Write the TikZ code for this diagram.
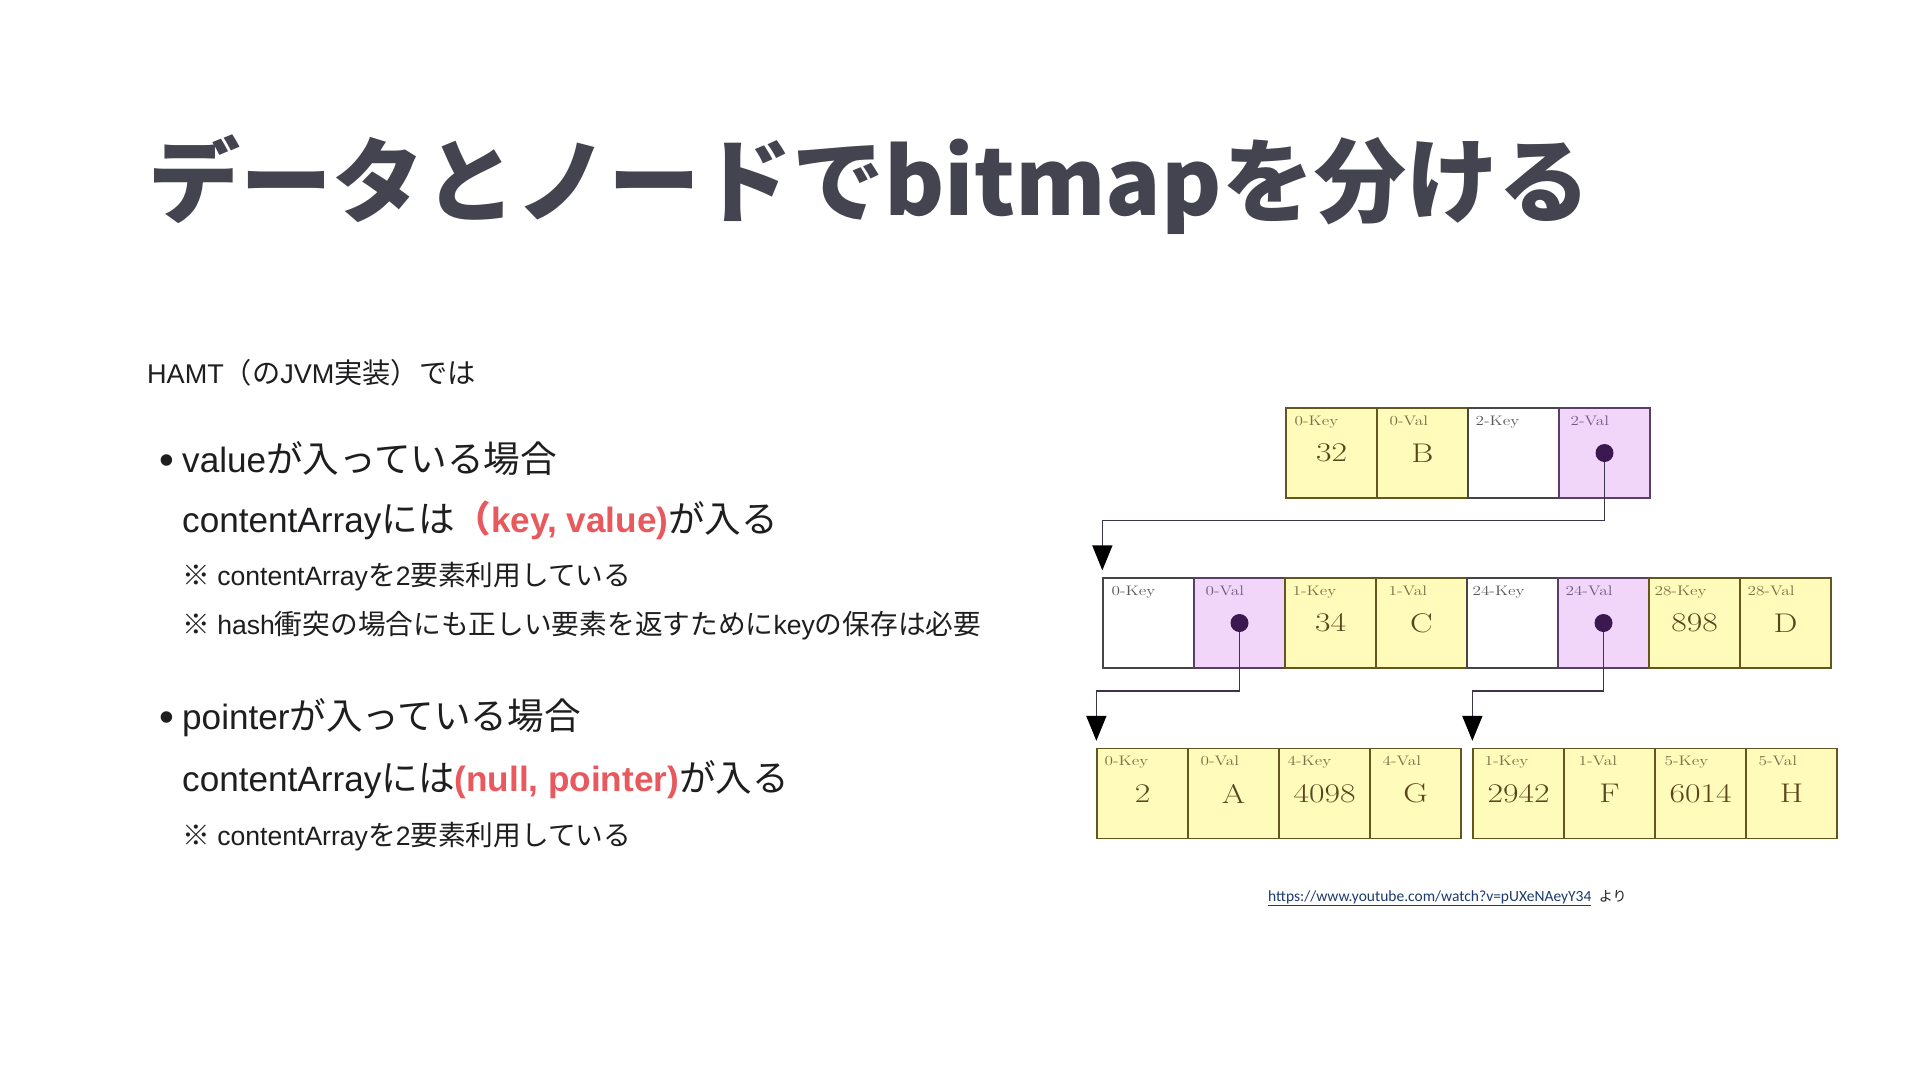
\documentclass[tikz,border=0pt]{standalone}
\usepackage{fontspec}
\newfontfamily\jp{Noto Sans CJK JP}
\newfontfamily\lat{Liberation Sans}[Scale=0.96]
\newfontfamily\urlfont{Carlito}
\usetikzlibrary{positioning,arrows.meta,calc}

\definecolor{titlegrey}{RGB}{68,68,80}
\definecolor{ink}{RGB}{30,30,32}
\definecolor{keyred}{RGB}{232,88,92}
\definecolor{linkblue}{RGB}{28,58,110}
\definecolor{cellyellow}{RGB}{255,251,186}
\definecolor{cellpurple}{RGB}{242,214,250}
\definecolor{yedge}{RGB}{100,86,30}
\definecolor{pedge}{RGB}{88,62,104}
\definecolor{wedge}{RGB}{70,70,70}
\definecolor{ytag}{RGB}{122,110,70}
\definecolor{ptag}{RGB}{112,92,128}
\definecolor{wtag}{RGB}{88,88,88}
\definecolor{valbrown}{RGB}{88,70,28}
\definecolor{dotpurple}{RGB}{60,24,80}
\definecolor{wire}{RGB}{62,52,74}

\newcommand\bigjp{\jp\fontsize{36.6}{44}\selectfont}
\newcommand\smalljp{\jp\fontsize{27.7}{34}\selectfont}
\newcommand\wide[1]{\scalebox{1.25}[1]{#1}}

\tikzset{
  cellbox/.style={draw, minimum width=91pt, minimum height=90pt, inner sep=0pt, line width=1.3pt},
  cell y/.style={cellbox, fill=cellyellow, draw=yedge},
  cell p/.style={cellbox, fill=cellpurple, draw=pedge},
  cell w/.style={cellbox, fill=white, draw=wedge},
  tag/.style={anchor=base west, inner sep=0pt, font=\fontsize{13.8}{14}\selectfont},
  tag y/.style={tag, text=ytag},
  tag p/.style={tag, text=ptag},
  tag w/.style={tag, text=wtag},
  val/.style={inner sep=0pt, font=\fontsize{27}{27}\selectfont, text=valbrown},
  ptr/.style={circle, fill=dotpurple, inner sep=0pt, minimum size=18pt},
  wirearrow/.style={draw=wire, line width=1.6pt, shorten >=7pt,
    -{Triangle[width=20pt,length=25pt,color=black]}},
  txt/.style={anchor=base west, inner sep=0pt, text=ink},
}

\begin{document}
\begin{tikzpicture}[x=1pt,y=-1pt]
  \useasboundingbox[fill=white] (0,0) rectangle (1920,1080);

  % title
  \node[anchor=base west, inner sep=0pt, text=titlegrey, font=\jp\bfseries\fontsize{92}{95}\selectfont]
    (title) at (148,215) {データとノードでbitmapを分ける};

  % left column text
  \node[txt, font=\jp\fontsize{28.2}{32}\selectfont] (hamt) at (147,383) {{\lat HAMT}（の{\lat JVM}実装）では};
  \node[txt, font=\lat\fontsize{44}{44}\selectfont] (bul1) at (159,474) {•};
  \node[txt, font=\bigjp] (val1) at (182,472) {{\lat value}が入っている場合};
  \node[txt, font=\bigjp] (val2) at (182,532) {{\lat contentArray}には\textcolor{keyred}{{\bfseries （}{\lat\bfseries key, value)}}が入る};
  \node[txt, font=\smalljp] (val3) at (182,585) {※{\lat\ contentArray}を{\lat 2}要素利用している};
  \node[txt, font=\smalljp] (val4) at (182,634) {※{\lat\ hash}衝突の場合にも正しい要素を返すために{\lat key}の保存は必要};
  \node[txt, font=\lat\fontsize{44}{44}\selectfont] (bul2) at (159,731) {•};
  \node[txt, font=\bigjp] (ptr1) at (182,729) {{\lat pointer}が入っている場合};
  \node[txt, font=\bigjp] (ptr2) at (182,791) {{\lat contentArray}には\textcolor{keyred}{\lat\bfseries (null, pointer)}が入る};
  \node[txt, font=\smalljp] (ptr3) at (182,845) {※{\lat\ contentArray}を{\lat 2}要素利用している};

  % top node
  \foreach \k/\lab/\v/\dx [count=\i from 0] in {y/0-Key/32/9, y/0-Val/B/13, w/2-Key//8, p/2-Val//12} {
    \node[cell \k] (t\i) at (1331.5+91*\i,453) {};
    \node[tag \k] at ($(t\i.north west)+(\dx,18)$) {\wide{\lab}};
    \node[val] at (t\i) {\wide{\v}};
  }
  % middle node
  \foreach \k/\lab/\v/\dx [count=\i from 0] in {w/0-Key//9, p/0-Val//12, y/1-Key/34/8, y/1-Val/C/13,
      w/24-Key//6, p/24-Val//8, y/28-Key/898/6, y/28-Val/D/8} {
    \node[cell \k] (m\i) at (1148.5+91*\i,623) {};
    \node[tag \k] at ($(m\i.north west)+(\dx,18)$) {\wide{\lab}};
    \node[val] at (m\i) {\wide{\v}};
  }
  % bottom nodes
  \foreach \lab/\v/\dx [count=\i from 0] in {0-Key/2/8, 0-Val/A/13, 4-Key/4098/9, 4-Val/G/13} {
    \node[cell y] (a\i) at (1142.5+91*\i,793.5) {};
    \node[tag y] at ($(a\i.north west)+(\dx,18)$) {\wide{\lab}};
    \node[val] at (a\i) {\wide{\v}};
  }
  \foreach \lab/\v/\dx [count=\i from 0] in {1-Key/2942/12, 1-Val/F/15, 5-Key/6014/10, 5-Val/H/13} {
    \node[cell y] (b\i) at (1518.5+91*\i,793.5) {};
    \node[tag y] at ($(b\i.north west)+(\dx,18)$) {\wide{\lab}};
    \node[val] at (b\i) {\wide{\v}};
  }

  % pointers
  \coordinate (j1) at ($(m0.north west)+(0,-57)$);
  \coordinate (j2) at ($(a0.north west)+(0,-57)$);
  \coordinate (j3) at ($(b0.north west)+(0,-57)$);
  \draw[wirearrow] (t3.center) |- (j1) -- (m0.north west);
  \draw[wirearrow] (m1.center) |- (j2) -- (a0.north west);
  \draw[wirearrow] (m5.center) |- (j3) -- (b0.north west);
  \node[ptr] (t3p) at (t3) {};
  \node[ptr] (m1p) at (m1) {};
  \node[ptr] (m5p) at (m5) {};

  % source
  \node[txt, text=linkblue, font=\urlfont\fontsize{15.5}{18}\selectfont] (src) at (1268,901)
    {\underline{https://www.youtube.com/watch?v=pUXeNAeyY34}};
  \node[txt, font=\jp\fontsize{14}{18}\selectfont, right=7pt of src.base east, anchor=base west] (yori) {より};
\end{tikzpicture}
\end{document}
